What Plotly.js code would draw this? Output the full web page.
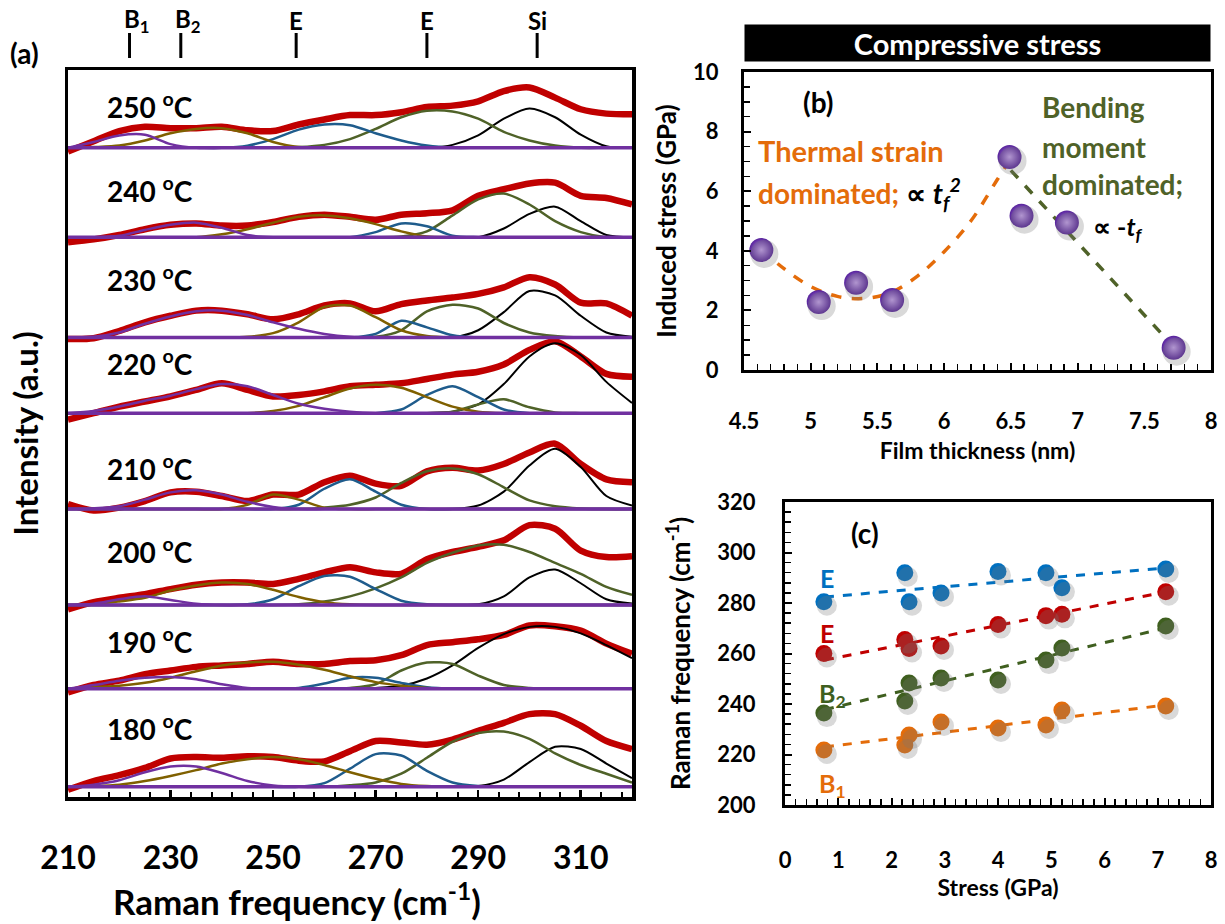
<!DOCTYPE html>
<html><head><meta charset="utf-8">
<script src="https://cdn.plot.ly/plotly-3.0.1.min.js"></script>
<style>body{margin:0;background:#fff}#chart{width:1225px;height:924px}</style>
</head><body><div id="chart"></div>
<script>
// ---------- Panel (a) data ----------
const freq = [210,215,220,225,230,235,240,245,250,255,260,265,270,275,280,285,290,295,300,305,310,315,320];
const temps = [180,190,200,210,220,230,240,250];
const offsets = [0.14,1.49,2.64,3.96,5.28,6.32,7.70,8.93];

const r180 = [-0.04,0.08,0.16,0.26,0.39,0.41,0.40,0.42,0.41,0.36,0.35,0.49,0.63,0.61,0.58,0.65,0.77,0.88,1.00,1.00,0.84,0.63,0.52];
const b1_180 = [0,0.03,0.09,0.20,0.28,0.28,0.19,0.08,0.02,0,0,0,0,0,0,0,0,0,0,0,0,0,0];
const b2_180 = [0,0.01,0.03,0.08,0.15,0.23,0.32,0.38,0.41,0.38,0.30,0.20,0.11,0.04,0.01,0,0,0,0,0,0,0,0];
const e1_180 = [0,0,0,0,0,0,0,0,0,0,0.05,0.25,0.45,0.43,0.22,0.06,0.01,0,0,0,0,0,0];
const e2_180 = [0,0,0,0,0,0,0,0,0,0,0,0.02,0.06,0.18,0.40,0.62,0.74,0.76,0.66,0.46,0.30,0.18,0.06];
const si_180 = [0,0,0,0,0,0,0,0,0,0,0,0,0,0,0,0,0.01,0.10,0.34,0.55,0.52,0.32,0.12];

const r190 = [-0.05,0.05,0.11,0.20,0.25,0.30,0.32,0.34,0.37,0.34,0.34,0.38,0.39,0.46,0.60,0.64,0.68,0.74,0.87,0.86,0.80,0.62,0.48];
const b1_190 = [0,0.05,0.11,0.15,0.16,0.13,0.06,0.01,0,0,0,0,0,0,0,0,0,0,0,0,0,0,0];
const b2_190 = [0,0.02,0.04,0.08,0.15,0.24,0.32,0.36,0.37,0.33,0.26,0.17,0.09,0.04,0.01,0,0,0,0,0,0,0,0];
const e1_190 = [0,0,0,0,0,0,0,0,0,0.01,0.07,0.15,0.15,0.08,0.02,0,0,0,0,0,0,0,0];
const e2_190 = [0,0,0,0,0,0,0,0,0,0,0,0.01,0.06,0.25,0.36,0.34,0.18,0.05,0.01,0,0,0,0];
const si_190 = [0,0,0,0,0,0,0,0,0,0,0,0,0.01,0.04,0.14,0.32,0.56,0.75,0.85,0.85,0.76,0.60,0.42];

const r200 = [-0.06,0.04,0.10,0.15,0.22,0.28,0.31,0.31,0.29,0.36,0.45,0.52,0.45,0.43,0.63,0.73,0.80,0.89,1.10,1.05,0.75,0.66,0.67];
const b1_200 = [0,0.02,0.08,0.12,0.07,0.02,0,0,0,0,0,0,0,0,0,0,0,0,0,0,0,0,0];
const b2_200 = [0,0.01,0.05,0.10,0.20,0.27,0.31,0.29,0.21,0.11,0.04,0.01,0,0,0,0,0,0,0,0,0,0,0];
const e1_200 = [0,0,0,0,0,0,0,0.01,0.08,0.26,0.40,0.39,0.22,0.06,0.01,0,0,0,0,0,0,0,0];
const e2_200 = [0,0,0,0,0,0,0,0,0,0.01,0.05,0.12,0.23,0.38,0.58,0.72,0.82,0.83,0.73,0.58,0.43,0.25,0.14];
const si_200 = [0,0,0,0,0,0,0,0,0,0,0,0,0,0,0,0,0.01,0.12,0.38,0.49,0.30,0.08,0.02];

const r210 = [0.07,-0.02,0.02,0.11,0.23,0.24,0.18,0.11,0.20,0.20,0.37,0.46,0.35,0.32,0.52,0.57,0.53,0.62,0.78,0.90,0.62,0.41,0.37];
const b1_210 = [0,0.01,0.04,0.13,0.23,0.26,0.20,0.10,0.03,0,0,0,0,0,0,0,0,0,0,0,0,0,0];
const b2_210 = [0,0,0,0,0,0,0,0.06,0.20,0.13,0.02,0,0,0,0,0,0,0,0,0,0,0,0];
const e1_210 = [0,0,0,0,0,0,0,0,0,0.06,0.28,0.41,0.24,0.06,0,0,0,0,0,0,0,0,0];
const e2_210 = [0,0,0,0,0,0,0,0,0,0,0.02,0.06,0.16,0.36,0.52,0.56,0.48,0.30,0.12,0.04,0.01,0,0];
const si_210 = [0,0,0,0,0,0,0,0,0,0,0,0,0,0,0,0,0.05,0.24,0.60,0.83,0.58,0.18,0.05];

const r220 = [-0.09,0.00,0.09,0.16,0.23,0.32,0.41,0.32,0.23,0.25,0.30,0.37,0.39,0.41,0.47,0.53,0.57,0.67,0.87,0.99,0.78,0.54,0.50];
const b1_220 = [0,0.03,0.09,0.17,0.24,0.33,0.40,0.37,0.25,0.13,0.06,0.02,0,0,0,0,0,0,0,0,0,0,0];
const b2_220 = [0,0,0,0,0,0,0,0,0.03,0.10,0.22,0.34,0.39,0.35,0.22,0.09,0.02,0,0,0,0,0,0];
const e1_220 = [0,0,0,0,0,0,0,0,0,0,0,0,0,0.05,0.25,0.37,0.22,0.05,0,0,0,0,0];
const e2_220 = [0,0,0,0,0,0,0,0,0,0,0,0,0,0,0,0.02,0.12,0.19,0.08,0.01,0,0,0];
const si_220 = [0,0,0,0,0,0,0,0,0,0,0,0,0,0,0,0.02,0.12,0.40,0.78,0.96,0.80,0.43,0.14];

const r230 = [-0.02,-0.01,0.09,0.21,0.30,0.37,0.37,0.32,0.25,0.32,0.44,0.47,0.36,0.46,0.51,0.55,0.60,0.69,0.83,0.73,0.48,0.47,0.30];
const b1_230 = [0,0.01,0.07,0.19,0.29,0.36,0.37,0.31,0.21,0.12,0.05,0.01,0,0,0,0,0,0,0,0,0,0,0];
const b2_230 = [0,0,0,0,0,0,0,0.01,0.06,0.21,0.42,0.44,0.28,0.10,0.02,0,0,0,0,0,0,0,0];
const e1_230 = [0,0,0,0,0,0,0,0,0,0,0,0,0.05,0.23,0.14,0.03,0,0,0,0,0,0,0];
const e2_230 = [0,0,0,0,0,0,0,0,0,0,0,0,0.01,0.10,0.36,0.45,0.40,0.20,0.07,0.02,0,0,0];
const si_230 = [0,0,0,0,0,0,0,0,0,0,0,0,0,0,0,0,0.10,0.35,0.64,0.58,0.30,0.07,0.01];

const r240 = [-0.07,-0.03,0.03,0.11,0.17,0.19,0.16,0.16,0.21,0.28,0.31,0.28,0.24,0.31,0.33,0.37,0.57,0.66,0.74,0.75,0.57,0.54,0.45];
const b1_240 = [0,0,0.02,0.10,0.17,0.20,0.13,0.03,0,0,0,0,0,0,0,0,0,0,0,0,0,0,0];
const b2_240 = [0,0,0,0,0,0,0.04,0.11,0.20,0.28,0.30,0.26,0.18,0.08,0.01,0,0,0,0,0,0,0,0];
const e1_240 = [0,0,0,0,0,0,0,0,0,0,0,0,0.07,0.19,0.15,0.02,0,0,0,0,0,0,0];
const e2_240 = [0,0,0,0,0,0,0,0,0,0,0,0,0,0.01,0.08,0.30,0.52,0.60,0.45,0.22,0.07,0,0];
const si_240 = [0,0,0,0,0,0,0,0,0,0,0,0,0,0,0,0,0,0.12,0.32,0.42,0.22,0.03,0];

const r250 = [-0.05,0.09,0.23,0.29,0.27,0.27,0.29,0.24,0.23,0.32,0.39,0.45,0.45,0.49,0.56,0.58,0.64,0.78,0.83,0.69,0.53,0.47,0.46];
const b1_250 = [0,0.08,0.17,0.18,0.05,0,0,0,0,0,0,0,0,0,0,0,0,0,0,0,0,0,0];
const b2_250 = [0,0.01,0.03,0.10,0.20,0.26,0.27,0.20,0.08,0.01,0,0,0,0,0,0,0,0,0,0,0,0,0];
const e1_250 = [0,0,0,0,0,0,0,0.03,0.12,0.25,0.32,0.31,0.20,0.10,0.03,0,0,0,0,0,0,0,0];
const e2_250 = [0,0,0,0,0,0,0,0,0,0.01,0.04,0.12,0.26,0.42,0.51,0.50,0.40,0.22,0.10,0.03,0,0,0];
const si_250 = [0,0,0,0,0,0,0,0,0,0,0,0,0,0,0,0.04,0.17,0.40,0.54,0.42,0.18,0.02,0];

const spectra = [
  [r180,b1_180,b2_180,e1_180,e2_180,si_180],
  [r190,b1_190,b2_190,e1_190,e2_190,si_190],
  [r200,b1_200,b2_200,e1_200,e2_200,si_200],
  [r210,b1_210,b2_210,e1_210,e2_210,si_210],
  [r220,b1_220,b2_220,e1_220,e2_220,si_220],
  [r230,b1_230,b2_230,e1_230,e2_230,si_230],
  [r240,b1_240,b2_240,e1_240,e2_240,si_240],
  [r250,b1_250,b2_250,e1_250,e2_250,si_250]
];

const modeNames = ['B<sub>1</sub>','B<sub>2</sub>','E','E','Si'];
const modePos = [222, 232, 254.5, 280, 301.5];

// ---------- Panel (b) data ----------
const thickness = [4.63, 5.06, 5.34, 5.61, 6.49, 6.58, 6.92, 7.72];
const stress = [4.03, 2.28, 2.93, 2.35, 7.15, 5.18, 4.95, 0.75];
const thermFitX = [4.63, 4.8, 5.0, 5.2, 5.4, 5.6, 5.8, 6.0, 6.2, 6.4, 6.5];
const thermFitY = [4.05, 3.4, 2.8, 2.47, 2.4, 2.6, 3.15, 3.97, 5.0, 6.4, 7.1];
const bendFitX = [6.5, 7.72];
const bendFitY = [6.7, 0.78];

// ---------- Panel (c) data ----------
const stressC = [0.73, 2.25, 2.33, 2.93, 4.0, 4.9, 5.2, 7.15];
const freqE2 = [280.5, 292, 280.5, 284, 292.5, 292, 286, 293.5];
const freqE1 = [260, 265.5, 262, 263, 271.5, 275, 275.5, 284.5];
const freqB2 = [236.4, 241.2, 248.3, 250.3, 249.5, 257.4, 262.2, 270.9];
const freqB1 = [221.8, 223.8, 227.7, 232.9, 230.5, 231.7, 237.6, 239.2];
const fitX = [0.75, 7.15];
const fitE2 = [282.4, 293.9];
const fitE1 = [257.4, 284.4];
const fitB2 = [237.8, 270.1];
const fitB1 = [223, 239.6];

// ---------- styling ----------
const FONT = 'Lato, "Open Sans", sans-serif';
const W = 1225, H = 924;
const px = v => v / W, py = v => 1 - v / H;
const compColors = ['#C00000','#7030A0','#7F6000','#1F5C8C','#4F6228','#000000'];
const compWidths = [6.5, 2.5, 2.5, 2.5, 2.5, 2];
const drawOrder = [0,5,4,3,2,1];
const ORANGE = '#E46C0A', GREEN = '#4F6228', BLUE = '#0070C0', RED = '#C00000', DKGREEN = '#3F5F1F';
const SHADOW = 'rgba(120,120,120,0.28)';

const traces = [];
spectra.forEach((set, i) => {
  const off = offsets[i];
  drawOrder.forEach(k => {
    traces.push({
      x: freq, y: set[k].map(v => v + off), xaxis: 'x', yaxis: 'y',
      type: 'scatter', mode: 'lines',
      line: {color: compColors[k], width: compWidths[k], shape: 'spline', smoothing: 0.8},
      hoverinfo: 'skip'
    });
  });
  traces.push({
    x: [freq[0], freq[freq.length-1]], y: [off, off], xaxis: 'x', yaxis: 'y',
    type: 'scatter', mode: 'lines', line: {color: '#7030A0', width: 3.5}, hoverinfo: 'skip'
  });
});

// panel (b): shadows on a slightly shifted, hidden copy of the axes
traces.push({x: thickness, y: stress, xaxis: 'x5', yaxis: 'y5', type: 'scatter', mode: 'markers',
  marker: {size: 28, color: SHADOW, line: {width: 0}}, hoverinfo: 'skip'});
traces.push({x: thermFitX, y: thermFitY, xaxis: 'x2', yaxis: 'y2', type: 'scatter', mode: 'lines',
  line: {color: ORANGE, width: 3.5, dash: 'dash', shape: 'spline'}});
traces.push({x: bendFitX, y: bendFitY, xaxis: 'x2', yaxis: 'y2', type: 'scatter', mode: 'lines',
  line: {color: GREEN, width: 3.5, dash: 'dash'}});
traces.push({x: thickness, y: stress, xaxis: 'x2', yaxis: 'y2', type: 'scatter', mode: 'markers',
  marker: {size: 24, color: '#55209A', gradient: {type: 'radial', color: '#C8A2F2'}, line: {width: 0}}});

// panel (c)
[freqE2, freqE1, freqB2, freqB1].forEach(fy => {
  traces.push({x: stressC, y: fy, xaxis: 'x4', yaxis: 'y4', type: 'scatter', mode: 'markers',
    marker: {size: 20, color: SHADOW, line: {width: 0}}, hoverinfo: 'skip'});
});
[[fitE2, BLUE],[fitE1, RED],[fitB2, DKGREEN],[fitB1, ORANGE]].forEach(([fy, c]) => {
  traces.push({x: fitX, y: fy, xaxis: 'x3', yaxis: 'y3', type: 'scatter', mode: 'lines',
    line: {color: c, width: 3, dash: 'dash'}});
});
[[freqE2, BLUE],[freqE1, RED],[freqB2, DKGREEN],[freqB1, ORANGE]].forEach(([fy, c]) => {
  traces.push({x: stressC, y: fy, xaxis: 'x3', yaxis: 'y3', type: 'scatter', mode: 'markers',
    marker: {size: 17, color: c, line: {width: 0}}});
});

const bold = (size, color) => ({family: FONT, size: size, color: color || '#000', weight: 'bold'});
const ann = (x, y, text, font, extra) => Object.assign({xref: 'paper', yref: 'paper', x: px(x), y: py(y),
  xanchor: 'center', yanchor: 'middle', text: text, showarrow: false, font: font}, extra || {});

const axBase = {showline: true, linecolor: '#000', mirror: true, showgrid: false, zeroline: false,
  ticks: 'inside', tickcolor: '#000', fixedrange: true};

const annotations = [];
const tempLabelY = [727, 640, 550, 467, 363, 278, 190, 105];
temps.forEach((t, i) => {
  annotations.push(ann(105, tempLabelY[i], t + ' <sup>o</sup>C', bold(28), {xanchor: 'left'}));
});
modeNames.forEach((m, i) => {
  annotations.push({xref: 'x', yref: 'paper', x: modePos[i], y: py(20), xanchor: 'center', yanchor: 'middle',
    xshift: m.startsWith('B') ? 7 : 0, text: m, showarrow: false, font: bold(24)});
});
annotations.push(ann(25, 53, '(a)', bold(28)));
annotations.push(ann(297, 899, 'Raman frequency (cm<sup>-1</sup>)', bold(35)));

annotations.push(ann(977.5, 43, 'Compressive stress', bold(29, '#fff'),
  {bgcolor: '#000', width: 465, height: 36, valign: 'middle', borderpad: 0}));
annotations.push(ann(818, 102, '(b)', bold(28)));
annotations.push(ann(756, 150, 'Thermal strain', bold(29, ORANGE), {xanchor: 'left'}));
annotations.push(ann(756, 193, '<span style="color:' + ORANGE + '">dominated;</span> ∝ <i>t<sub>f</sub><sup>2</sup></i>',
  bold(28), {xanchor: 'left'}));
annotations.push(ann(1040, 107, 'Bending', bold(28, GREEN), {xanchor: 'left'}));
annotations.push(ann(1040, 147, 'moment', bold(28, GREEN), {xanchor: 'left'}));
annotations.push(ann(1040, 184, 'dominated;', bold(28, GREEN), {xanchor: 'left'}));
annotations.push(ann(1091, 228, '∝ -<i>t<sub>f</sub></i>', bold(25), {xanchor: 'left'}));

annotations.push(ann(865, 533, '(c)', bold(28)));
annotations.push(ann(827, 578, 'E', bold(25, BLUE)));
annotations.push(ann(827, 633, 'E', bold(25, RED)));
annotations.push(ann(817, 695, 'B<sub>2</sub>', bold(25, DKGREEN), {xanchor: 'left'}));
annotations.push(ann(817, 785, 'B<sub>1</sub>', bold(25, ORANGE), {xanchor: 'left'}));

const shapes = modePos.map(p => ({type: 'line', xref: 'x', yref: 'paper', x0: p, x1: p, y0: py(58), y1: py(33),
  line: {color: '#000', width: 3}}));

const hiddenAx = {visible: false, showgrid: false, zeroline: false, fixedrange: true};

const layout = {
  width: W, height: H, margin: {l: 0, r: 0, t: 0, b: 0}, paper_bgcolor: '#fff', plot_bgcolor: 'rgba(0,0,0,0)',
  showlegend: false, font: {family: FONT, color: '#000'},
  xaxis: Object.assign({}, axBase, {domain: [px(68), px(632)], range: [210, 320], anchor: 'y', linewidth: 3.5,
    tickvals: [210,230,250,270,290,310], ticklen: 7, tickwidth: 2.5, tickfont: bold(32), ticklabelstandoff: 30,
    minor: {dtick: 4, tick0: 210, ticks: 'inside', ticklen: 5, tickwidth: 2, tickcolor: '#000'}}),
  yaxis: Object.assign({}, axBase, {domain: [py(797), py(70)], range: [0, 10], anchor: 'x', linewidth: 3.5,
    ticks: '', showticklabels: false,
    title: {text: 'Intensity (a.u.)', font: bold(33), standoff: 17}}),
  xaxis2: Object.assign({}, axBase, {domain: [px(744), px(1211)], range: [4.5, 8], anchor: 'y2', linewidth: 3,
    dtick: 0.5, tick0: 4.5, ticklen: 7, tickwidth: 2, tickfont: bold(22), ticklabelstandoff: 30,
    minor: {dtick: 0.1, ticks: 'inside', ticklen: 6, tickwidth: 1.5, tickcolor: '#000'},
    title: {text: 'Film thickness (nm)', font: bold(23), standoff: 10}}),
  yaxis2: Object.assign({}, axBase, {domain: [py(370), py(72)], range: [0, 10], anchor: 'x2', linewidth: 3,
    dtick: 2, ticklen: 7, tickwidth: 2, tickfont: bold(22), ticklabelstandoff: 18,
    minor: {dtick: 0.5, ticks: 'inside', ticklen: 6, tickwidth: 1.5, tickcolor: '#000'},
    title: {text: 'Induced stress (GPa)', font: bold(26), standoff: 9}}),
  xaxis3: Object.assign({}, axBase, {domain: [px(785), px(1211)], range: [0, 8], anchor: 'y3', linewidth: 3,
    dtick: 1, ticklen: 7, tickwidth: 2, tickfont: bold(22), ticklabelstandoff: 34,
    minor: {dtick: 0.2, ticks: 'inside', ticklen: 6, tickwidth: 1.5, tickcolor: '#000'},
    title: {text: 'Stress (GPa)', font: bold(23), standoff: 8}}),
  yaxis3: Object.assign({}, axBase, {domain: [py(805), py(502)], range: [200, 320], anchor: 'x3', linewidth: 3,
    dtick: 20, ticklen: 7, tickwidth: 2, tickfont: bold(22), ticklabelstandoff: 22,
    minor: {dtick: 4, ticks: 'inside', ticklen: 6, tickwidth: 1.5, tickcolor: '#000'},
    title: {text: 'Raman frequency (cm<sup>-1</sup>)', font: bold(26), standoff: 20}}),
  // hidden, slightly offset copies used only for drop shadows
  xaxis4: Object.assign({}, hiddenAx, {domain: [px(788), px(1214)], range: [0, 8], anchor: 'y4'}),
  yaxis4: Object.assign({}, hiddenAx, {domain: [py(809), py(506)], range: [200, 320], anchor: 'x4'}),
  xaxis5: Object.assign({}, hiddenAx, {domain: [px(747), px(1214)], range: [4.5, 8], anchor: 'y5'}),
  yaxis5: Object.assign({}, hiddenAx, {domain: [py(374), py(76)], range: [0, 10], anchor: 'x5'}),
  annotations: annotations,
  shapes: shapes
};

Plotly.newPlot('chart', traces, layout, {staticPlot: true, displayModeBar: false});
</script>
</body></html>
